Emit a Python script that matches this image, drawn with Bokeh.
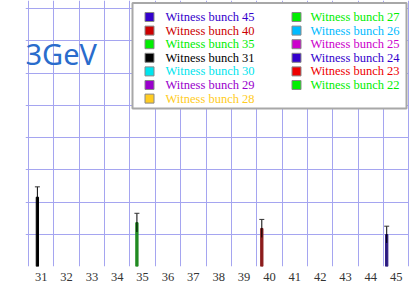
from bokeh.plotting import figure
from bokeh.models import FixedTicker, Range1d, ColumnDataSource, Label
from bokeh.core.properties import value
from bokeh.embed import file_html
from bokeh.resources import INLINE

# ---- data ----
series = ["45", "40", "35", "31", "30", "29", "28", "27", "26", "25", "24", "23", "22"]
series_colors = ["#3300cc", "#cc0000", "#00ee00", "#000000", "#00e5ee", "#9900cc",
                 "#ffcc22", "#00ee00", "#00bbff", "#cc00cc", "#3300cc", "#ee0000", "#00ee00"]
bar_bunch = [31, 35, 40, 45]
bar_value = [2.15, 1.36, 1.18, 0.99]
bar_err = [0.32, 0.29, 0.28, 0.26]
bar_colors = ["#000000", "#228b22", "#8b1c1c", "#2b1a80"]
x_ticks = list(range(31, 46))
y_grid = list(range(0, 9))
title_text = "3GeV"

GRID = "#a5a5f0"
SX, SY = 25.36, 32.25          # px per unit
FL, FT = 25, 0                 # frame left / top in page px
FW, FH = 384, 266
X0 = x_ticks[0] - 0.5 - 3 / SX
X1 = X0 + FW / SX
Y0 = 0
Y1 = FH / SY

p = figure(width=409, height=284, output_backend="svg", toolbar_location=None,
           x_range=Range1d(X0, X1), y_range=Range1d(Y0, Y1),
           min_border_left=FL, min_border_right=0, min_border_top=FT, min_border_bottom=18)
p.outline_line_color = None
p.background_fill_color = "white"
p.yaxis.visible = False

# grid
p.xgrid.ticker = FixedTicker(ticks=[t - 0.5 for t in x_ticks] + [x_ticks[-1] + 0.5])
p.ygrid.ticker = FixedTicker(ticks=y_grid)
for g in (p.xgrid, p.ygrid):
    g.grid_line_color = GRID
    g.grid_line_width = 1

# x axis (labels only)
p.xaxis.ticker = FixedTicker(ticks=x_ticks)
p.xaxis.axis_line_color = None
p.xaxis.major_tick_line_color = None
p.xaxis.minor_tick_line_color = None
p.xaxis.major_tick_out = 0
p.xaxis.major_tick_in = 0
p.xaxis.major_label_standoff = 6
p.xaxis.major_label_text_font = "Liberation Serif"
p.xaxis.major_label_text_font_size = "12.5px"
p.xaxis.major_label_text_color = "#333333"

# bars (dodged by series index)
bar_x = [b + (series.index(str(b)) - 5) * 0.075 for b in bar_bunch]
src = ColumnDataSource(dict(x=bar_x, top=bar_value, lo=[v - e for v, e in zip(bar_value, bar_err)],
                            hi=[v + e for v, e in zip(bar_value, bar_err)], color=bar_colors))
p.vbar(x="x", top="top", bottom=0, width=0.09, color="color", source=src)
p.segment(x0="x", x1="x", y0="lo", y1="hi", line_color="black", line_width=1, source=src)
p.scatter(x="x", y="hi", marker="dash", size=5, line_color="#333333", line_width=1, source=src)

# page-pixel helpers for decorations
def px(x):
    return X0 + (x - FL) / SX
def py(y):
    return Y1 - (y - FT) / SY

# title text
p.add_layout(Label(x=px(25), y=py(53), text=title_text, text_font="Noto Sans",
                   text_font_size="29px", text_color="#2a6ccc", text_baseline="alphabetic"))

# custom legend
p.quad(left=px(132), right=px(406), top=py(2.5), bottom=py(108), fill_color="white",
       line_color="#a8a8a8", line_width=2, level="annotation")
lx, ly, ltx = [], [], []
for i, s in enumerate(series):
    col, row = (0, i) if i < 7 else (1, i - 7)
    lx.append(px([149, 296][col]))
    ly.append(py(16.5 + 13.6 * row))
    ltx.append(px([165, 310][col]))
lsrc = ColumnDataSource(dict(x=lx, y=ly, tx=ltx, color=series_colors,
                             label=["Witness bunch " + s for s in series]))
p.rect(x="x", y="y", width=9, height=9, width_units="screen", height_units="screen",
       fill_color="color", line_color="#888888", line_width=1, source=lsrc, level="overlay")
p.text(x="tx", y="y", text="label", text_color="color", text_font=value("Liberation Serif"),
       text_font_size="12.5px", text_baseline="middle", source=lsrc, level="overlay")

open("out.html", "w").write(file_html(p, INLINE))
